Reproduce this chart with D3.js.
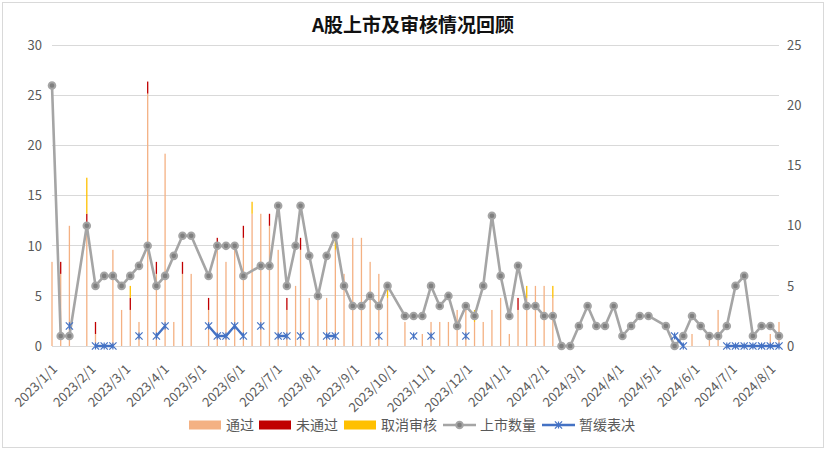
<!DOCTYPE html>
<html><head><meta charset="utf-8">
<script src="https://cdn.jsdelivr.net/npm/d3@7"></script>
<style>
body{margin:0;background:#fff;}
svg{display:block;font-family:"Noto Sans CJK SC","Noto Sans",sans-serif;}
</style>
</head><body>
<svg id="c" width="826" height="450"></svg>
<script>
// ---------------- data ----------------
const dates = [
"2023-01-01","2023-01-08","2023-01-15","2023-01-22","2023-01-29","2023-02-05","2023-02-12","2023-02-19","2023-02-26",
"2023-03-05","2023-03-12","2023-03-19","2023-03-26","2023-04-02","2023-04-09","2023-04-16","2023-04-23","2023-04-30",
"2023-05-07","2023-05-14","2023-05-21","2023-05-28","2023-06-04","2023-06-11","2023-06-18","2023-06-25","2023-07-02",
"2023-07-09","2023-07-16","2023-07-20","2023-07-27","2023-08-03","2023-08-10","2023-08-17","2023-08-24","2023-08-31",
"2023-09-07","2023-09-14","2023-09-21","2023-09-28","2023-10-05","2023-10-12","2023-10-19","2023-10-26","2023-11-02",
"2023-11-09","2023-11-16","2023-11-23","2023-11-30","2023-12-07","2023-12-14","2023-12-21","2023-12-28","2024-01-04",
"2024-01-11","2024-01-18","2024-01-25","2024-02-01","2024-02-08","2024-02-15","2024-02-22","2024-02-29","2024-03-07",
"2024-03-14","2024-03-21","2024-03-28","2024-04-04","2024-04-11","2024-04-18","2024-04-25","2024-05-02","2024-05-09",
"2024-05-16","2024-05-23","2024-05-30","2024-06-06","2024-06-13","2024-06-20","2024-06-27","2024-07-04","2024-07-11",
"2024-07-18","2024-07-25","2024-08-01","2024-08-08"];

// 上市数量 (left axis)
const listed = [26,1,1,null,12,6,7,7,6, 7,8,10,6,7,9,11,11,null, 7,10,10,10,7,null,8,8,14, 6,10,14,9,5,9,11,6,4,
4,5,4,6,null,3,3,3,6, 4,5,2,4,3,6,13,7,3, 8,4,4,3,3,0,0,2,4, 2,2,4,1,2,3,3,null,2, 0,1,3,2,1,1,2,6,7, 1,2,2,1];

// 通过 / 未通过 / 取消审核 (right axis)
const passed = [7,6,10,0,10,1,0,8,3, 3,2,21,6,16,2,6,6,0, 3,8,7,8,9,11,11,10,8, 3,5,8,4,4,4,8,6,9,
9,7,6,4,0,2,0,1,2, 2,2,3,3,2,2,3,4,1, 3,4,5,5,4,0,0,0,0, 0,0,0,0,0,0,0,0,0, 0,0,1,0,1,3,0,0,0, 0,0,1,2];
const rejected = [0,1,0,0,1,1,0,0,0, 1,0,1,1,0,0,1,0,0, 1,1,0,0,1,0,0,1,0, 1,0,1,0,0,0,0,0,0,
0,0,0,0,0,0,0,0,0, 0,0,0,0,0,0,0,0,0, 1,0,0,0,0,0,0,0,0, 0,0,0,0,0,0,0,0,0, 0,0,0,0,0,0,0,0,0, 0,0,0,0];
const cancelled = [0,0,0,0,3,0,0,0,0, 1,0,0,0,0,0,0,0,0, 0,0,0,0,0,1,0,0,0, 0,0,0,0,0,0,1,0,0,
0,0,0,1,0,0,0,0,0, 0,0,0,0,1,0,0,0,0, 0,1,0,0,1,0,0,0,0, 0,0,0,0,0,0,0,0,0, 0,0,0,0,0,0,0,0,0, 0,0,0,0];

// 暂缓表决 (left axis)
const deferred = [null,null,2,null,null,0,0,0,null, null,1,null,1,2,null,null,null,null, 2,1,1,2,1,null,2,null,1,
1,null,1,null,null,1,1,null,null, null,null,1,null,null,null,1,null,1, null,null,null,1,null,null,null,null,null,
null,null,null,null,null,null,null,null,null, null,null,null,null,null,null,null,null,null, 1,0,null,null,null,null,0,0,0,
0,0,0,0];

const monthTicks = ["2023/1/1","2023/2/1","2023/3/1","2023/4/1","2023/5/1","2023/6/1","2023/7/1","2023/8/1","2023/9/1",
"2023/10/1","2023/11/1","2023/12/1","2024/1/1","2024/2/1","2024/3/1","2024/4/1","2024/5/1","2024/6/1","2024/7/1","2024/8/1"];
const leftTicks = [0,5,10,15,20,25,30];
const rightTicks = [0,5,10,15,20,25];

const seriesNames = ["通过","未通过","取消审核","上市数量","暂缓表决"];
const colors = {pass:"#F4B183", rej:"#C00000", can:"#FFC000", line:"#A5A5A5", mk:"#7F7F7F", blue:"#4472C4"};

// ---------------- chart ----------------
const svg = d3.select("#c");
const parse = d3.timeParse("%Y-%m-%d");
const parseTick = d3.timeParse("%Y/%m/%d");
const D = dates.map(parse);
const X0 = 52, X1 = 779, YB = 346, YT = 45.5;
const x = d3.scaleTime().domain([D[0], D[D.length-1]]).range([X0, X1]);
const yL = d3.scaleLinear().domain([0,30]).range([YB, YT]);
const yR = d3.scaleLinear().domain([0,25]).range([YB, YT]);

svg.append("rect").attr("x",0).attr("y",0).attr("width",826).attr("height",450).attr("fill","#fff");
svg.append("rect").attr("x",2.5).attr("y",2.5).attr("width",821).attr("height",445)
  .attr("fill","none").attr("stroke","#d9d9d9").attr("stroke-width",1);

// gridlines
svg.append("g").selectAll("line").data(leftTicks).join("line")
  .attr("x1",X0).attr("x2",X1)
  .attr("y1",d=>Math.floor(yL(d))+0.5).attr("y2",d=>Math.floor(yL(d))+0.5)
  .attr("stroke","#d9d9d9").attr("stroke-width",1);

// axes
const gl = svg.append("g").attr("transform",`translate(${X0},0)`)
  .call(d3.axisLeft(yL).tickValues(leftTicks).tickSize(0).tickPadding(10));
const gr = svg.append("g").attr("transform",`translate(${X1},0)`)
  .call(d3.axisRight(yR).tickValues(rightTicks).tickSize(0).tickPadding(8));
const gx = svg.append("g").attr("transform",`translate(0,${YB})`)
  .call(d3.axisBottom(x).tickValues(monthTicks.map(parseTick)).tickSize(0).tickFormat((d,i)=>monthTicks[i]));
[gl,gr,gx].forEach(g=>{
  g.select(".domain").remove();
  g.selectAll("text").attr("fill","#595959").style("font-size","13px")
   .style("font-family",'"Noto Sans CJK SC","Noto Sans",sans-serif');
});
gx.selectAll("text").attr("y",null).attr("dy",null)
  .attr("transform","translate(5.5,24) rotate(-45)").style("text-anchor","end");

// bars (stacked, right axis)
const bw = 1.3;
const bars = svg.append("g");
D.forEach((d,i)=>{
  const p = passed[i], r = rejected[i], c = cancelled[i];
  const cx = x(d) - bw/2;
  if (p>0) bars.append("rect").attr("x",cx).attr("width",bw).attr("y",yR(p)).attr("height",yR(0)-yR(p)).attr("fill",colors.pass);
  if (r>0) bars.append("rect").attr("x",cx).attr("width",bw).attr("y",yR(p+r)).attr("height",yR(p)-yR(p+r)).attr("fill",colors.rej);
  if (c>0) bars.append("rect").attr("x",cx).attr("width",bw).attr("y",yR(p+r+c)).attr("height",yR(p+r)-yR(p+r+c)).attr("fill",colors.can);
});

// 上市数量 line
const lData = D.map((d,i)=>({d, v:listed[i]})).filter(o=>o.v!=null);
svg.append("path").datum(lData).attr("fill","none").attr("stroke",colors.line).attr("stroke-width",2.6)
  .attr("stroke-linejoin","round")
  .attr("d", d3.line().x(o=>x(o.d)).y(o=>yL(o.v)));
svg.append("g").selectAll("circle").data(lData).join("circle")
  .attr("cx",o=>x(o.d)).attr("cy",o=>yL(o.v)).attr("r",3.3)
  .attr("fill",colors.mk).attr("stroke",colors.line).attr("stroke-width",2);

// 暂缓表决 line
const dData = D.map((d,i)=>({d, v:deferred[i]}));
svg.append("path").datum(dData).attr("fill","none").attr("stroke",colors.blue).attr("stroke-width",2.3)
  .attr("d", d3.line().defined(o=>o.v!=null).x(o=>x(o.d)).y(o=>yL(o.v)));
function star(g, cx, cy, s){
  const p = `M${cx-s},${cy-s}L${cx+s},${cy+s}M${cx-s},${cy+s}L${cx+s},${cy-s}M${cx},${cy-s}L${cx},${cy+s}`;
  g.append("path").attr("d",p).attr("stroke",colors.blue).attr("stroke-width",1.2).attr("fill","none");
}
const sg = svg.append("g");
dData.filter(o=>o.v!=null).forEach(o=>star(sg, x(o.d), yL(o.v), 3.6));

// title
svg.append("text").attr("x",413).attr("y",32).attr("text-anchor","middle")
  .style("font-size","19px").style("font-weight","bold").attr("fill","#111")
  .text("A股上市及审核情况回顾");

// legend
const lg = svg.append("g").style("font-size","14px").attr("fill","#595959");
const LY = 425;
[[189,colors.pass,0],[259,colors.rej,1],[344,colors.can,2]].forEach(([lx,col,i])=>{
  lg.append("rect").attr("x",lx).attr("y",LY-4.5).attr("width",32).attr("height",9).attr("fill",col);
  lg.append("text").attr("x",lx+37).attr("y",LY+5).attr("fill","#595959").text(seriesNames[i]);
});
lg.append("line").attr("x1",443).attr("x2",476).attr("y1",LY).attr("y2",LY).attr("stroke",colors.line).attr("stroke-width",2.6);
lg.append("circle").attr("cx",459.5).attr("cy",LY).attr("r",3.3).attr("fill",colors.mk).attr("stroke",colors.line).attr("stroke-width",2);
lg.append("text").attr("x",480).attr("y",LY+5).attr("fill","#595959").text(seriesNames[3]);
lg.append("line").attr("x1",542).attr("x2",575).attr("y1",LY).attr("y2",LY).attr("stroke",colors.blue).attr("stroke-width",2.3);
star(lg, 558.5, LY, 3.6);
lg.append("text").attr("x",579).attr("y",LY+5).attr("fill","#595959").text(seriesNames[4]);
</script>
</body></html>
